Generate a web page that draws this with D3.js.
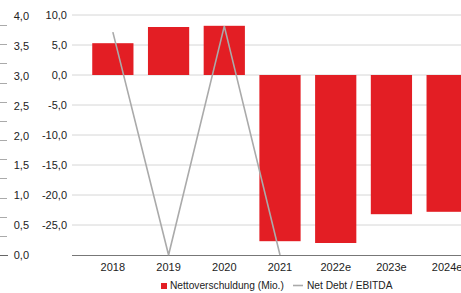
<!DOCTYPE html>
<html>
<head>
<meta charset="utf-8">
<script src="https://cdn.jsdelivr.net/npm/d3@7"></script>
<style>
  body { margin: 0; background: #fff; }
  svg { display: block; font-family: "Liberation Sans", Arial, sans-serif; }
</style>
</head>
<body>
<svg width="461" height="293"></svg>
<script>
const years = ["2018", "2019", "2020", "2021", "2022e", "2023e", "2024e"];
const netDebt = [5.3, 8.0, 8.2, -27.7, -28.0, -23.2, -22.8];
const debtEbitda = [3.73, 0, 3.83, 0, null, null, null];
const leftTicks = [0, 0.5, 1, 1.5, 2, 2.5, 3, 3.5, 4];
const rightTicks = [10, 5, 0, -5, -10, -15, -20, -25];

const svg = d3.select("svg");
const fmt = (v) => d3.format(".1f")(v).replace(".", ",").replace("−", "-");

const x = d3.scaleBand().domain(years).range([85, 475]).paddingInner(0.26).paddingOuter(0.13);
const y = d3.scaleLinear().domain([-30, 10]).range([255, 15]);
const y2 = d3.scaleLinear().domain([0, 4]).range([255, 16]);

// gridlines
svg.append("g")
  .selectAll("line")
  .data(rightTicks)
  .join("line")
  .attr("x1", 72).attr("x2", 461)
  .attr("y1", (d) => y(d)).attr("y2", (d) => y(d))
  .attr("stroke", "#d6d6d6").attr("stroke-width", 1);

// primary axis labels
svg.append("g")
  .selectAll("text")
  .data(rightTicks)
  .join("text")
  .attr("x", 67).attr("y", (d) => y(d) + 4)
  .attr("text-anchor", "end")
  .attr("font-size", 11).attr("fill", "#222")
  .text(fmt);

// secondary axis labels and ticks
svg.append("g")
  .selectAll("text")
  .data(leftTicks)
  .join("text")
  .attr("x", 29).attr("y", (d) => y2(d) + 4)
  .attr("text-anchor", "end")
  .attr("font-size", 11).attr("fill", "#222")
  .text(fmt);

const minorTicks = d3.scaleLinear().domain([0, 12]).range([25, 255]);
svg.append("g")
  .selectAll("line")
  .data(d3.range(13))
  .join("line")
  .attr("x1", 0).attr("x2", (d) => (d === 12 ? 8 : 7))
  .attr("y1", (d) => Math.round(minorTicks(d)) + 0.5)
  .attr("y2", (d) => Math.round(minorTicks(d)) + 0.5)
  .attr("stroke", (d) => (d === 12 ? "#666" : "#aaa"));

// bars
svg.append("g")
  .selectAll("rect")
  .data(netDebt)
  .join("rect")
  .attr("x", (d, i) => x(years[i]))
  .attr("width", x.bandwidth())
  .attr("y", (d) => y(Math.max(0, d)))
  .attr("height", (d) => Math.abs(y(d) - y(0)))
  .attr("fill", "#e31e24");

// bottom axis line
svg.append("line")
  .attr("x1", 72).attr("x2", 461)
  .attr("y1", 255.5).attr("y2", 255.5)
  .attr("stroke", "#777").attr("stroke-width", 1.2);

// line series
const line = d3.line()
  .defined((d) => d !== null)
  .x((d, i) => x(years[i]) + x.bandwidth() / 2)
  .y((d) => y2(d));

svg.append("path")
  .datum(debtEbitda)
  .attr("d", line)
  .attr("fill", "none")
  .attr("stroke", "#aaaaaa")
  .attr("stroke-width", 1.6);

// x labels
svg.append("g")
  .selectAll("text")
  .data(years)
  .join("text")
  .attr("x", (d) => x(d) + x.bandwidth() / 2)
  .attr("y", 271)
  .attr("text-anchor", "middle")
  .attr("font-size", 11).attr("fill", "#222")
  .text((d) => d);

// legend
const legend = svg.append("g").attr("font-size", 10.2).attr("fill", "#222");
legend.append("rect").attr("x", 161).attr("y", 283).attr("width", 6).attr("height", 6).attr("fill", "#e31e24");
legend.append("text").attr("x", 170).attr("y", 289).text("Nettoverschuldung (Mio.)");
legend.append("line").attr("x1", 293).attr("x2", 303).attr("y1", 285.5).attr("y2", 285.5)
  .attr("stroke", "#aaaaaa").attr("stroke-width", 1.6);
legend.append("text").attr("x", 307).attr("y", 289).text("Net Debt / EBITDA");
</script>
</body>
</html>
